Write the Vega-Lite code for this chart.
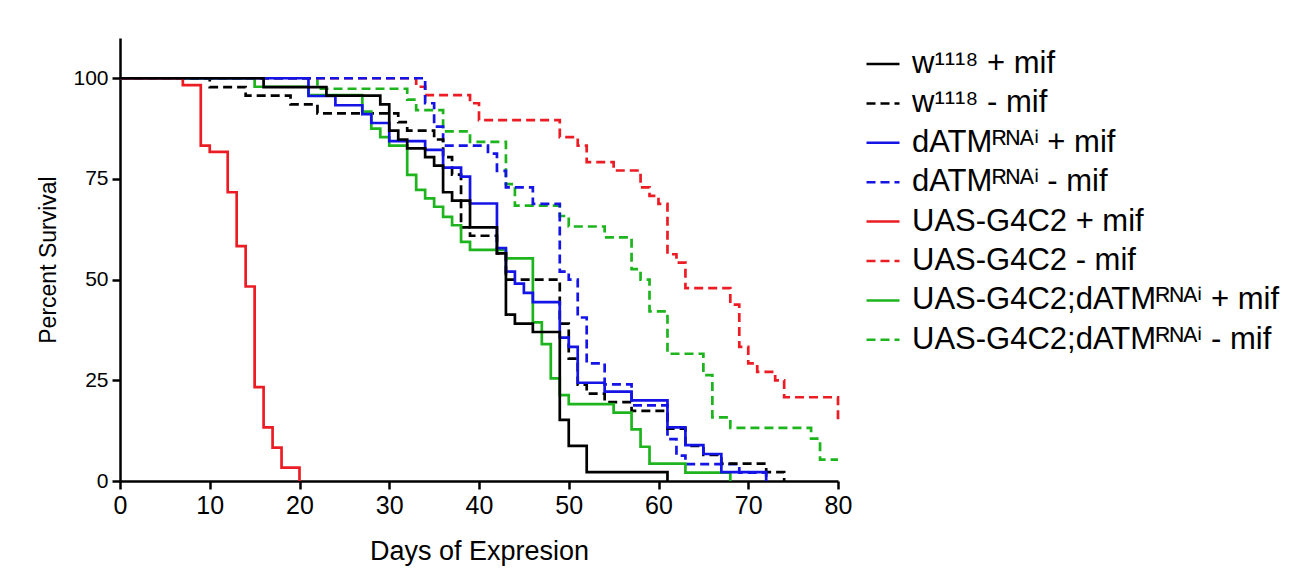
{
  "$schema": "https://vega.github.io/schema/vega-lite/v6.json",
  "width": 718,
  "height": 443,
  "autosize": {"type": "none"},
  "padding": {"left": 120, "top": 38, "right": 462, "bottom": 94},
  "background": "white",
  "config": {
    "view": {"stroke": null},
    "font": "Liberation Sans",
    "axis": {
      "grid": false,
      "domainColor": "#000000",
      "domainWidth": 2.5,
      "tickColor": "#000000",
      "tickWidth": 2.5,
      "tickSize": 8,
      "labelColor": "#000000",
      "labelFont": "Liberation Sans",
      "labelFlush": false,
      "labelPadding": 4,
      "titleColor": "#000000",
      "titleFont": "Liberation Sans",
      "titleFontWeight": "normal"
    },
    "legend": {
      "labelFont": "Liberation Sans",
      "labelFontSize": 31,
      "labelColor": "#000000",
      "labelLimit": 0
    }
  },
  "data": {
    "values": [
      {"group": "UAS-G4C2;dATMᴿᴺᴬⁱ - mif", "day": 0, "survival": 100},
      {"group": "UAS-G4C2;dATMᴿᴺᴬⁱ - mif", "day": 22, "survival": 97.4},
      {"group": "UAS-G4C2;dATMᴿᴺᴬⁱ - mif", "day": 32, "survival": 94.7},
      {"group": "UAS-G4C2;dATMᴿᴺᴬⁱ - mif", "day": 33, "survival": 92.1},
      {"group": "UAS-G4C2;dATMᴿᴺᴬⁱ - mif", "day": 36, "survival": 86.8},
      {"group": "UAS-G4C2;dATMᴿᴺᴬⁱ - mif", "day": 39, "survival": 84.2},
      {"group": "UAS-G4C2;dATMᴿᴺᴬⁱ - mif", "day": 43, "survival": 73.7},
      {"group": "UAS-G4C2;dATMᴿᴺᴬⁱ - mif", "day": 44, "survival": 68.4},
      {"group": "UAS-G4C2;dATMᴿᴺᴬⁱ - mif", "day": 49, "survival": 65.8},
      {"group": "UAS-G4C2;dATMᴿᴺᴬⁱ - mif", "day": 50, "survival": 63.2},
      {"group": "UAS-G4C2;dATMᴿᴺᴬⁱ - mif", "day": 54, "survival": 60.5},
      {"group": "UAS-G4C2;dATMᴿᴺᴬⁱ - mif", "day": 57, "survival": 52.6},
      {"group": "UAS-G4C2;dATMᴿᴺᴬⁱ - mif", "day": 58, "survival": 50},
      {"group": "UAS-G4C2;dATMᴿᴺᴬⁱ - mif", "day": 59, "survival": 42.1},
      {"group": "UAS-G4C2;dATMᴿᴺᴬⁱ - mif", "day": 61, "survival": 31.6},
      {"group": "UAS-G4C2;dATMᴿᴺᴬⁱ - mif", "day": 65, "survival": 26.3},
      {"group": "UAS-G4C2;dATMᴿᴺᴬⁱ - mif", "day": 66, "survival": 15.8},
      {"group": "UAS-G4C2;dATMᴿᴺᴬⁱ - mif", "day": 68, "survival": 13.2},
      {"group": "UAS-G4C2;dATMᴿᴺᴬⁱ - mif", "day": 77, "survival": 10.5},
      {"group": "UAS-G4C2;dATMᴿᴺᴬⁱ - mif", "day": 78, "survival": 5.3},
      {"group": "UAS-G4C2;dATMᴿᴺᴬⁱ - mif", "day": 80, "survival": 5.3},

      {"group": "UAS-G4C2 - mif", "day": 0, "survival": 100},
      {"group": "UAS-G4C2 - mif", "day": 33, "survival": 97.9},
      {"group": "UAS-G4C2 - mif", "day": 34, "survival": 95.8},
      {"group": "UAS-G4C2 - mif", "day": 39, "survival": 93.8},
      {"group": "UAS-G4C2 - mif", "day": 40, "survival": 89.6},
      {"group": "UAS-G4C2 - mif", "day": 49, "survival": 85.4},
      {"group": "UAS-G4C2 - mif", "day": 51, "survival": 83.3},
      {"group": "UAS-G4C2 - mif", "day": 52, "survival": 79.2},
      {"group": "UAS-G4C2 - mif", "day": 55, "survival": 77.1},
      {"group": "UAS-G4C2 - mif", "day": 58, "survival": 72.9},
      {"group": "UAS-G4C2 - mif", "day": 59, "survival": 70.8},
      {"group": "UAS-G4C2 - mif", "day": 60, "survival": 68.8},
      {"group": "UAS-G4C2 - mif", "day": 61, "survival": 56.3},
      {"group": "UAS-G4C2 - mif", "day": 62, "survival": 54.2},
      {"group": "UAS-G4C2 - mif", "day": 63, "survival": 47.9},
      {"group": "UAS-G4C2 - mif", "day": 68, "survival": 43.8},
      {"group": "UAS-G4C2 - mif", "day": 69, "survival": 33.3},
      {"group": "UAS-G4C2 - mif", "day": 70, "survival": 29.2},
      {"group": "UAS-G4C2 - mif", "day": 71, "survival": 27.1},
      {"group": "UAS-G4C2 - mif", "day": 73, "survival": 25},
      {"group": "UAS-G4C2 - mif", "day": 74, "survival": 20.8},
      {"group": "UAS-G4C2 - mif", "day": 80, "survival": 14.6},

      {"group": "dATMᴿᴺᴬⁱ - mif", "day": 0, "survival": 100},
      {"group": "dATMᴿᴺᴬⁱ - mif", "day": 34, "survival": 93.8},
      {"group": "dATMᴿᴺᴬⁱ - mif", "day": 35, "survival": 88},
      {"group": "dATMᴿᴺᴬⁱ - mif", "day": 36, "survival": 83.3},
      {"group": "dATMᴿᴺᴬⁱ - mif", "day": 41, "survival": 81.3},
      {"group": "dATMᴿᴺᴬⁱ - mif", "day": 42, "survival": 77},
      {"group": "dATMᴿᴺᴬⁱ - mif", "day": 43, "survival": 72.9},
      {"group": "dATMᴿᴺᴬⁱ - mif", "day": 46, "survival": 68.8},
      {"group": "dATMᴿᴺᴬⁱ - mif", "day": 49, "survival": 52},
      {"group": "dATMᴿᴺᴬⁱ - mif", "day": 50, "survival": 50},
      {"group": "dATMᴿᴺᴬⁱ - mif", "day": 51, "survival": 40.6},
      {"group": "dATMᴿᴺᴬⁱ - mif", "day": 52, "survival": 29.2},
      {"group": "dATMᴿᴺᴬⁱ - mif", "day": 54, "survival": 24},
      {"group": "dATMᴿᴺᴬⁱ - mif", "day": 57, "survival": 18.8},
      {"group": "dATMᴿᴺᴬⁱ - mif", "day": 61, "survival": 10.4},
      {"group": "dATMᴿᴺᴬⁱ - mif", "day": 62, "survival": 6.3},
      {"group": "dATMᴿᴺᴬⁱ - mif", "day": 63, "survival": 4.2},
      {"group": "dATMᴿᴺᴬⁱ - mif", "day": 69, "survival": 2.1},
      {"group": "dATMᴿᴺᴬⁱ - mif", "day": 72, "survival": 0},

      {"group": "w¹¹¹⁸ - mif", "day": 0, "survival": 100},
      {"group": "w¹¹¹⁸ - mif", "day": 10, "survival": 97.8},
      {"group": "w¹¹¹⁸ - mif", "day": 14, "survival": 95.7},
      {"group": "w¹¹¹⁸ - mif", "day": 19, "survival": 93.5},
      {"group": "w¹¹¹⁸ - mif", "day": 22, "survival": 91.3},
      {"group": "w¹¹¹⁸ - mif", "day": 31, "survival": 89.1},
      {"group": "w¹¹¹⁸ - mif", "day": 32, "survival": 87},
      {"group": "w¹¹¹⁸ - mif", "day": 35, "survival": 84.8},
      {"group": "w¹¹¹⁸ - mif", "day": 36, "survival": 80.4},
      {"group": "w¹¹¹⁸ - mif", "day": 37, "survival": 76.1},
      {"group": "w¹¹¹⁸ - mif", "day": 38, "survival": 63},
      {"group": "w¹¹¹⁸ - mif", "day": 39, "survival": 60.9},
      {"group": "w¹¹¹⁸ - mif", "day": 42, "survival": 56.5},
      {"group": "w¹¹¹⁸ - mif", "day": 43, "survival": 50},
      {"group": "w¹¹¹⁸ - mif", "day": 49, "survival": 39.1},
      {"group": "w¹¹¹⁸ - mif", "day": 50, "survival": 30.4},
      {"group": "w¹¹¹⁸ - mif", "day": 51, "survival": 23.9},
      {"group": "w¹¹¹⁸ - mif", "day": 52, "survival": 21.7},
      {"group": "w¹¹¹⁸ - mif", "day": 54, "survival": 19.6},
      {"group": "w¹¹¹⁸ - mif", "day": 57, "survival": 17.4},
      {"group": "w¹¹¹⁸ - mif", "day": 61, "survival": 13},
      {"group": "w¹¹¹⁸ - mif", "day": 63, "survival": 8.7},
      {"group": "w¹¹¹⁸ - mif", "day": 65, "survival": 6.5},
      {"group": "w¹¹¹⁸ - mif", "day": 67, "survival": 4.3},
      {"group": "w¹¹¹⁸ - mif", "day": 72, "survival": 2.2},
      {"group": "w¹¹¹⁸ - mif", "day": 74, "survival": 0},

      {"group": "UAS-G4C2;dATMᴿᴺᴬⁱ + mif", "day": 0, "survival": 100},
      {"group": "UAS-G4C2;dATMᴿᴺᴬⁱ + mif", "day": 15, "survival": 97.9},
      {"group": "UAS-G4C2;dATMᴿᴺᴬⁱ + mif", "day": 21, "survival": 95.8},
      {"group": "UAS-G4C2;dATMᴿᴺᴬⁱ + mif", "day": 27, "survival": 91.7},
      {"group": "UAS-G4C2;dATMᴿᴺᴬⁱ + mif", "day": 28, "survival": 87.5},
      {"group": "UAS-G4C2;dATMᴿᴺᴬⁱ + mif", "day": 29, "survival": 85.4},
      {"group": "UAS-G4C2;dATMᴿᴺᴬⁱ + mif", "day": 30, "survival": 83.3},
      {"group": "UAS-G4C2;dATMᴿᴺᴬⁱ + mif", "day": 32, "survival": 76},
      {"group": "UAS-G4C2;dATMᴿᴺᴬⁱ + mif", "day": 33, "survival": 72.3},
      {"group": "UAS-G4C2;dATMᴿᴺᴬⁱ + mif", "day": 34, "survival": 70.2},
      {"group": "UAS-G4C2;dATMᴿᴺᴬⁱ + mif", "day": 35, "survival": 68.1},
      {"group": "UAS-G4C2;dATMᴿᴺᴬⁱ + mif", "day": 36, "survival": 65.6},
      {"group": "UAS-G4C2;dATMᴿᴺᴬⁱ + mif", "day": 37, "survival": 63.5},
      {"group": "UAS-G4C2;dATMᴿᴺᴬⁱ + mif", "day": 38, "survival": 59.4},
      {"group": "UAS-G4C2;dATMᴿᴺᴬⁱ + mif", "day": 39, "survival": 57.4},
      {"group": "UAS-G4C2;dATMᴿᴺᴬⁱ + mif", "day": 43, "survival": 55.3},
      {"group": "UAS-G4C2;dATMᴿᴺᴬⁱ + mif", "day": 46, "survival": 39.4},
      {"group": "UAS-G4C2;dATMᴿᴺᴬⁱ + mif", "day": 47, "survival": 34},
      {"group": "UAS-G4C2;dATMᴿᴺᴬⁱ + mif", "day": 48, "survival": 25.5},
      {"group": "UAS-G4C2;dATMᴿᴺᴬⁱ + mif", "day": 49, "survival": 21.3},
      {"group": "UAS-G4C2;dATMᴿᴺᴬⁱ + mif", "day": 50, "survival": 19.1},
      {"group": "UAS-G4C2;dATMᴿᴺᴬⁱ + mif", "day": 55, "survival": 17},
      {"group": "UAS-G4C2;dATMᴿᴺᴬⁱ + mif", "day": 57, "survival": 12.8},
      {"group": "UAS-G4C2;dATMᴿᴺᴬⁱ + mif", "day": 58, "survival": 8.5},
      {"group": "UAS-G4C2;dATMᴿᴺᴬⁱ + mif", "day": 59, "survival": 4.3},
      {"group": "UAS-G4C2;dATMᴿᴺᴬⁱ + mif", "day": 63, "survival": 2.1},
      {"group": "UAS-G4C2;dATMᴿᴺᴬⁱ + mif", "day": 68, "survival": 0},

      {"group": "dATMᴿᴺᴬⁱ + mif", "day": 0, "survival": 100},
      {"group": "dATMᴿᴺᴬⁱ + mif", "day": 21, "survival": 95.6},
      {"group": "dATMᴿᴺᴬⁱ + mif", "day": 24, "survival": 93.3},
      {"group": "dATMᴿᴺᴬⁱ + mif", "day": 27, "survival": 91.1},
      {"group": "dATMᴿᴺᴬⁱ + mif", "day": 28, "survival": 88.9},
      {"group": "dATMᴿᴺᴬⁱ + mif", "day": 30, "survival": 84.4},
      {"group": "dATMᴿᴺᴬⁱ + mif", "day": 34, "survival": 82.2},
      {"group": "dATMᴿᴺᴬⁱ + mif", "day": 36, "survival": 77.8},
      {"group": "dATMᴿᴺᴬⁱ + mif", "day": 38, "survival": 75.6},
      {"group": "dATMᴿᴺᴬⁱ + mif", "day": 39, "survival": 68.9},
      {"group": "dATMᴿᴺᴬⁱ + mif", "day": 42, "survival": 57.8},
      {"group": "dATMᴿᴺᴬⁱ + mif", "day": 43, "survival": 52},
      {"group": "dATMᴿᴺᴬⁱ + mif", "day": 44, "survival": 49},
      {"group": "dATMᴿᴺᴬⁱ + mif", "day": 45, "survival": 46.7},
      {"group": "dATMᴿᴺᴬⁱ + mif", "day": 46, "survival": 44.4},
      {"group": "dATMᴿᴺᴬⁱ + mif", "day": 49, "survival": 35.6},
      {"group": "dATMᴿᴺᴬⁱ + mif", "day": 50, "survival": 33.3},
      {"group": "dATMᴿᴺᴬⁱ + mif", "day": 51, "survival": 24.4},
      {"group": "dATMᴿᴺᴬⁱ + mif", "day": 54, "survival": 22.2},
      {"group": "dATMᴿᴺᴬⁱ + mif", "day": 57, "survival": 20},
      {"group": "dATMᴿᴺᴬⁱ + mif", "day": 61, "survival": 13.3},
      {"group": "dATMᴿᴺᴬⁱ + mif", "day": 63, "survival": 8.9},
      {"group": "dATMᴿᴺᴬⁱ + mif", "day": 65, "survival": 6.7},
      {"group": "dATMᴿᴺᴬⁱ + mif", "day": 67, "survival": 2.2},
      {"group": "dATMᴿᴺᴬⁱ + mif", "day": 72, "survival": 0},

      {"group": "UAS-G4C2 + mif", "day": 0, "survival": 100},
      {"group": "UAS-G4C2 + mif", "day": 7, "survival": 98.3},
      {"group": "UAS-G4C2 + mif", "day": 9, "survival": 83.3},
      {"group": "UAS-G4C2 + mif", "day": 10, "survival": 81.7},
      {"group": "UAS-G4C2 + mif", "day": 12, "survival": 71.7},
      {"group": "UAS-G4C2 + mif", "day": 13, "survival": 58.3},
      {"group": "UAS-G4C2 + mif", "day": 14, "survival": 48.3},
      {"group": "UAS-G4C2 + mif", "day": 15, "survival": 23.3},
      {"group": "UAS-G4C2 + mif", "day": 16, "survival": 13.3},
      {"group": "UAS-G4C2 + mif", "day": 17, "survival": 8.3},
      {"group": "UAS-G4C2 + mif", "day": 18, "survival": 3.3},
      {"group": "UAS-G4C2 + mif", "day": 20, "survival": 0},

      {"group": "w¹¹¹⁸ + mif", "day": 0, "survival": 100},
      {"group": "w¹¹¹⁸ + mif", "day": 16, "survival": 97.8},
      {"group": "w¹¹¹⁸ + mif", "day": 23, "survival": 95.7},
      {"group": "w¹¹¹⁸ + mif", "day": 29, "survival": 93.5},
      {"group": "w¹¹¹⁸ + mif", "day": 30, "survival": 87},
      {"group": "w¹¹¹⁸ + mif", "day": 31, "survival": 84.8},
      {"group": "w¹¹¹⁸ + mif", "day": 32, "survival": 82.6},
      {"group": "w¹¹¹⁸ + mif", "day": 34, "survival": 80.4},
      {"group": "w¹¹¹⁸ + mif", "day": 35, "survival": 78.3},
      {"group": "w¹¹¹⁸ + mif", "day": 36, "survival": 71.7},
      {"group": "w¹¹¹⁸ + mif", "day": 37, "survival": 69.6},
      {"group": "w¹¹¹⁸ + mif", "day": 39, "survival": 63},
      {"group": "w¹¹¹⁸ + mif", "day": 42, "survival": 56.5},
      {"group": "w¹¹¹⁸ + mif", "day": 43, "survival": 41.3},
      {"group": "w¹¹¹⁸ + mif", "day": 44, "survival": 39.1},
      {"group": "w¹¹¹⁸ + mif", "day": 46, "survival": 37},
      {"group": "w¹¹¹⁸ + mif", "day": 49, "survival": 15.2},
      {"group": "w¹¹¹⁸ + mif", "day": 50, "survival": 8.7},
      {"group": "w¹¹¹⁸ + mif", "day": 52, "survival": 2.2},
      {"group": "w¹¹¹⁸ + mif", "day": 61, "survival": 0}
    ]
  },
  "mark": {"type": "line", "interpolate": "step-after", "strokeWidth": 2.7, "clip": false},
  "encoding": {
    "x": {
      "field": "day",
      "type": "quantitative",
      "scale": {"domain": [0, 80], "nice": false},
      "axis": {"values": [0, 10, 20, 30, 40, 50, 60, 70, 80], "title": "Days of Expresion", "labelFontSize": 25, "titleFontSize": 27, "titlePadding": 20}
    },
    "y": {
      "field": "survival",
      "type": "quantitative",
      "scale": {"domain": [0, 110], "nice": false},
      "axis": {"values": [0, 25, 50, 75, 100], "title": "Percent Survival", "labelFontSize": 21, "titleFontSize": 23, "titlePadding": 12}
    },
    "color": {
      "field": "group",
      "type": "nominal",
      "scale": {
        "domain": ["w¹¹¹⁸ + mif", "w¹¹¹⁸ - mif", "dATMᴿᴺᴬⁱ + mif", "dATMᴿᴺᴬⁱ - mif", "UAS-G4C2 + mif", "UAS-G4C2 - mif", "UAS-G4C2;dATMᴿᴺᴬⁱ + mif", "UAS-G4C2;dATMᴿᴺᴬⁱ - mif"],
        "range": ["#000000", "#000000", "#1414e6", "#1414e6", "#ec1c24", "#ec1c24", "#1db41d", "#1db41d"]
      },
      "legend": {"title": null, "orient": "none", "legendX": 745, "legendY": 8, "symbolType": "stroke", "symbolSize": 1089, "symbolStrokeWidth": 2.5, "labelOffset": 11, "rowPadding": 6.4, "padding": 0}
    },
    "strokeDash": {
      "field": "group",
      "type": "nominal",
      "scale": {
        "domain": ["w¹¹¹⁸ + mif", "w¹¹¹⁸ - mif", "dATMᴿᴺᴬⁱ + mif", "dATMᴿᴺᴬⁱ - mif", "UAS-G4C2 + mif", "UAS-G4C2 - mif", "UAS-G4C2;dATMᴿᴺᴬⁱ + mif", "UAS-G4C2;dATMᴿᴺᴬⁱ - mif"],
        "range": [[1, 0], [9, 5], [1, 0], [9, 5], [1, 0], [9, 5], [1, 0], [9, 5]]
      },
      "legend": {"title": null, "orient": "none", "legendX": 745, "legendY": 8, "symbolType": "stroke", "symbolSize": 1089, "symbolStrokeWidth": 2.5, "labelOffset": 11, "rowPadding": 6.4, "padding": 0}
    }
  }
}
